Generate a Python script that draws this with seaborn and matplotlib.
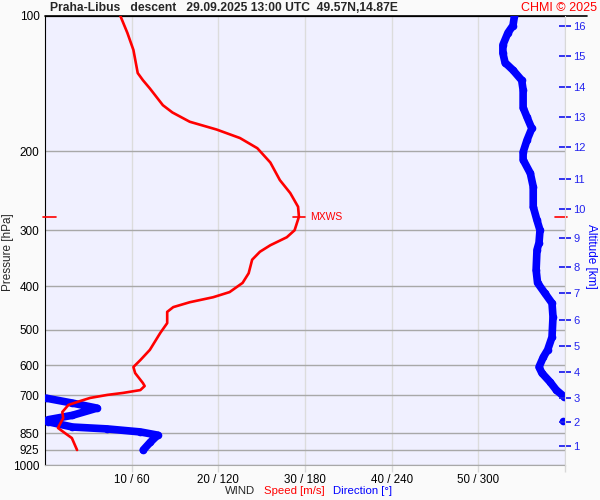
import numpy as np
import pandas as pd
import matplotlib
matplotlib.use("Agg")
import matplotlib.pyplot as plt
import seaborn as sns
from matplotlib.ticker import NullLocator

sns.set_style("white")
plt.rcParams["font.family"] = ["Liberation Sans", "DejaVu Sans"]

# ---------------- data ----------------
title = "Praha-Libus   descent   29.09.2025 13:00 UTC  49.57N,14.87E"
credit = "CHMI \u00a9 2025"

pressure_ticks = [100, 200, 300, 400, 500, 600, 700, 850, 925, 1000]
speed_ticks = [10, 20, 30, 40, 50]
dir_ticks = [60, 120, 180, 240, 300]
alt_km = list(range(1, 17))
alt_pres = [907, 803, 709, 620, 543, 475, 414, 362, 312, 269, 231, 196, 168, 144, 123, 105]

speed_pres = [100, 109, 119, 134, 139, 145, 158, 164, 172, 179,
              187, 197, 212, 232, 248, 266, 280, 300, 311, 324,
              335, 349, 374, 393, 412, 423, 434, 445, 456, 483,
              508, 554, 584, 605, 624, 657, 667, 681, 691, 698,
              709, 724, 735, 762, 786, 806, 827, 849, 871, 926]
speed = [8.7, 9.5, 10.2, 10.7, 11.3, 12.1, 13.6, 14.7, 16.7, 19.8,
         22.5, 24.5, 26.0, 27.1, 28.3, 29.2, 29.3, 28.8, 27.9, 26.0,
         24.8, 23.9, 23.5, 22.8, 21.3, 19.4, 16.7, 14.8, 14.1, 14.1,
         13.3, 12.1, 11.0, 10.2, 10.4, 11.3, 11.5, 11.0, 9.0, 7.2,
         5.2, 3.7, 2.7, 2.0, 2.1, 1.8, 1.5, 2.3, 3.1, 3.7]

dir_pres = [100, 105, 109, 116, 121, 127, 132, 139, 146, 160,
            168, 178, 189, 201, 209, 224, 240, 266, 285, 300,
            320, 332, 368, 393, 414, 436, 468, 519, 554, 575,
            605, 624, 653, 681, 705, 710, 728, 747, 775, 793,
            797, 801, 823, 831, 844, 858, 889, 926]
direction = [325, 324, 320.5, 317, 317, 318.5, 324, 330, 331, 331,
             333.7, 337, 333.7, 331, 331, 336, 338, 338, 340.6, 342.7,
             342, 340.6, 340, 341, 346, 351, 351.7, 351, 348, 345,
             342, 344, 349.6, 354, 359.5, 1, 19, 36, 19, 2,
             358.5, 2, 19, 43, 66, 78, 73, 68]

RED = "#FF0000"
BLUE = "#0000FF"
ALT_BLUE = "#2323EE"

# ---------------- figure ----------------
fig = plt.figure(figsize=(6, 5), dpi=100, facecolor="#FAFAFA")
ax = fig.add_axes([45 / 600, 1 - 465 / 500, 520 / 600, 449 / 500])
ax.set_facecolor("#F0F0FF")
ax.set_yscale("log")
ax.set_ylim(1000, 100)
ax.set_xlim(0, 360)

ax.set_yticks(pressure_ticks)
ax.set_yticklabels([str(p) for p in pressure_ticks])
ax.yaxis.set_minor_locator(NullLocator())
ax.set_xticks(dir_ticks + [360])
ax.set_xticklabels([f"{s} / {d}" for s, d in zip(speed_ticks, dir_ticks)] + [""])
ax.xaxis.set_minor_locator(NullLocator())
ax.tick_params(axis="y", length=0, pad=4, labelsize=8.5, labelcolor="black")
ax.tick_params(axis="x", length=5, width=1, color="#D8D8D8", pad=1.5,
               labelsize=8.3, labelcolor="black")
ax.grid(axis="y", color="#A8A8A8", lw=1)
ax.grid(axis="x", color="#DCDCDC", lw=1)
ax.set_axisbelow(True)
ax.spines["right"].set_visible(False)
ax.spines["bottom"].set_color("#A8A8A8")
ax.spines["left"].set_color("black")
ax.spines["top"].set_color("black")
ax.plot([0, 1.042], [1, 1], transform=ax.transAxes, color="black", lw=1.2,
        clip_on=False)

# direction (blue) on main axes (0..360)
dd = pd.DataFrame({"p": dir_pres, "dir": direction})
dd["seg"] = (dd["dir"].diff().abs() > 180).cumsum()
sns.lineplot(data=dd, x="dir", y="p", units="seg", estimator=None, sort=False,
             color=BLUE, lw=5.5, marker="o", markersize=5.5, markeredgewidth=0,
             solid_capstyle="round", solid_joinstyle="round", legend=False,
             ax=ax, zorder=3)
ax.set_xlabel("")
ax.set_ylabel("")

# speed (red) on twin x axis (0..60)
axs = ax.twiny()
axs.set_xlim(0, 60)
axs.set_xticks([])
for s in axs.spines.values():
    s.set_visible(False)
ds = pd.DataFrame({"p": speed_pres, "v": speed})
sns.lineplot(data=ds, x="v", y="p", estimator=None, sort=False, color=RED,
             lw=1.9, legend=False, ax=axs, zorder=4)
axs.set_xlabel("")
axs.set_ylabel("")

# MXWS markers
imax = int(np.argmax(speed))
vmax, pmax = speed[imax], speed_pres[imax]
axs.plot([vmax - 0.7, vmax + 0.7], [pmax, pmax], color=RED, lw=1.2)
axs.text(vmax + 1.3, pmax, "MXWS", color=RED, fontsize=7.5, va="center", ha="left")
ytr = axs.get_yaxis_transform()
axs.plot([-0.004, 0.021], [pmax, pmax], transform=ytr, color=RED, lw=1.2, clip_on=False)
axs.plot([0.981, 1.004], [pmax, pmax], transform=ytr, color=RED, lw=1.2, clip_on=False)

# altitude axis (right)
axa = ax.twinx()
axa.set_yscale("log")
axa.set_ylim(1000, 100)
axa.set_yticks(alt_pres)
axa.set_yticklabels([str(k) for k in alt_km])
axa.yaxis.set_minor_locator(NullLocator())
axa.tick_params(axis="y", colors=ALT_BLUE, length=8, width=1.3, direction="inout",
                pad=2, labelsize=8)
for s in axa.spines.values():
    s.set_visible(False)
axa.spines["right"].set_visible(True)
axa.spines["right"].set_color("#D8D8D8")

# texts
fig.text(50 / 600, 1 - 8 / 500, title, fontsize=8.7, fontweight="bold", va="center", ha="left")
fig.text(597 / 600, 1 - 8 / 500, credit, fontsize=9, color=RED, va="center", ha="right")
fig.text(8 / 600, 1 - 252 / 500, "Pressure [hPa]", fontsize=8.5, rotation=90,
         va="center", ha="center")
fig.text(591 / 600, 1 - 256 / 500, "Altitude [km]", fontsize=8.5, rotation=270,
         va="center", ha="center", color=BLUE)
fig.text(225 / 600, 1 - 491 / 500, "WIND", fontsize=8.2, va="center", ha="left")
fig.text(264 / 600, 1 - 491 / 500, "Speed [m/s]", fontsize=8.2, va="center", ha="left", color=RED)
fig.text(333 / 600, 1 - 491 / 500, "Direction [\u00b0]", fontsize=8.2, va="center", ha="left", color=BLUE)

fig.savefig("out.png", dpi=100, facecolor=fig.get_facecolor())
